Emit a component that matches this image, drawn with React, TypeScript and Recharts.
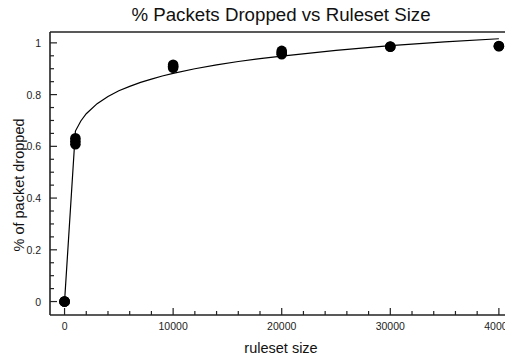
import {
  ComposedChart,
  Line,
  Scatter,
  XAxis,
  YAxis,
  ReferenceLine,
  Label,
} from "recharts";

// measured points (ruleset size, fraction dropped)
const pointX = [0, 0, 0, 1000, 1000, 1000, 10000, 10000, 10000, 20000, 20000, 20000, 30000, 30000, 40000, 40000];
const pointY = [0, 0, 0, 0.608, 0.62, 0.631, 0.904, 0.91, 0.915, 0.956, 0.962, 0.969, 0.985, 0.986, 0.987, 0.988];

// fitted curve
const fitX = [0, 1000, 1500, 2000, 3000, 4000, 5000, 6000, 7000, 8000, 9000, 10000, 12000, 14000, 16000, 18000, 20000, 25000, 30000, 35000, 40000];
const fitY = [0, 0.659, 0.698, 0.726, 0.765, 0.793, 0.815, 0.832, 0.847, 0.86, 0.872, 0.882, 0.9, 0.915, 0.928, 0.939, 0.949, 0.971, 0.989, 1.004, 1.016];

const xTicks = [0, 2000, 4000, 6000, 8000, 10000, 12000, 14000, 16000, 18000, 20000, 22000, 24000, 26000, 28000, 30000, 32000, 34000, 36000, 38000, 40000];
const xLabels = [0, 10000, 20000, 30000, 40000];
const yTicks = [0, 0.05, 0.1, 0.15, 0.2, 0.25, 0.3, 0.35, 0.4, 0.45, 0.5, 0.55, 0.6, 0.65, 0.7, 0.75, 0.8, 0.85, 0.9, 0.95, 1];
const yLabels = [0, 0.2, 0.4, 0.6, 0.8, 1];

const points = pointX.map((x, i) => ({ x, y: pointY[i] }));
const fit = fitX.map((x, i) => ({ x, y: fitY[i] }));

const FONT = "'Liberation Sans', Arial, Helvetica, sans-serif";
const X_MIN = -1340;
const X_MAX = 41300;
const Y_MIN = -0.052;
const Y_MAX = 1.042;

function XTick(props: any) {
  const { x, y, payload } = props;
  const major = xLabels.includes(payload.value);
  return (
    <g>
      <line x1={x} x2={x} y1={y} y2={y - (major ? 7 : 4)} stroke="#222" strokeWidth={1.2} />
      {major && (
        <text x={x} y={y + 15} textAnchor="middle" fontSize={10.5} fontFamily={FONT} fill="#222">
          {payload.value}
        </text>
      )}
    </g>
  );
}

function YTick(props: any) {
  const { x, y, payload } = props;
  const major = yLabels.some((v) => Math.abs(v - payload.value) < 1e-6);
  return (
    <g>
      <line x1={x} x2={x + (major ? 7 : 4)} y1={y} y2={y} stroke="#222" strokeWidth={1.2} />
      {major && (
        <text x={x - 9} y={y + 4} textAnchor="end" fontSize={10.5} fontFamily={FONT} fill="#222">
          {String(payload.value)}
        </text>
      )}
    </g>
  );
}

function App() {
  return (
    <div style={{ margin: "-8px 0 0 -8px", width: 513, height: 360 }}>
      <ComposedChart width={513} height={360} margin={{ top: 32, right: 0, bottom: 0, left: 0 }}>
        <XAxis
          dataKey="x"
          type="number"
          domain={[X_MIN, X_MAX]}
          ticks={xTicks}
          interval={0}
          tickSize={0}
          tickMargin={0}
          tickLine={false}
          tick={<XTick />}
          height={45}
          axisLine={{ stroke: "#222", strokeWidth: 1.6 }}
          allowDataOverflow
        >
          <Label
            content={() => (
              <g>
                <text x={281} y={21} textAnchor="middle" fontSize={18.7} fontFamily={FONT} fill="#111">
                  % Packets Dropped vs Ruleset Size
                </text>
                <text x={281} y={353} textAnchor="middle" fontSize={14.5} fontFamily={FONT} fill="#111">
                  ruleset size
                </text>
              </g>
            )}
          />
        </XAxis>
        <YAxis
          dataKey="y"
          type="number"
          domain={[Y_MIN, Y_MAX]}
          ticks={yTicks}
          interval={0}
          tickSize={0}
          tickMargin={0}
          tickLine={false}
          tick={<YTick />}
          width={50}
          axisLine={{ stroke: "#222", strokeWidth: 1.6 }}
          allowDataOverflow
        >
          <Label
            content={() => (
              <text
                x={19}
                y={185}
                transform="rotate(-90, 19, 185)"
                textAnchor="middle"
                dominantBaseline="central"
                fontSize={14.5}
                fontFamily={FONT}
                fill="#111"
              >
                % of packet dropped
              </text>
            )}
          />
        </YAxis>
        <ReferenceLine y={Y_MAX} stroke="#222" strokeWidth={1.6} ifOverflow="visible" />
        <Line
          data={fit}
          dataKey="y"
          type="linear"
          stroke="#000"
          strokeWidth={1.2}
          dot={false}
          activeDot={false}
          isAnimationActive={false}
        />
        <Scatter
          data={points}
          dataKey="y"
          fill="#000"
          isAnimationActive={false}
          shape={(p: any) => <circle cx={p.cx} cy={p.cy} r={5.3} fill="#000" />}
        />
      </ComposedChart>
    </div>
  );
}

export default App;
